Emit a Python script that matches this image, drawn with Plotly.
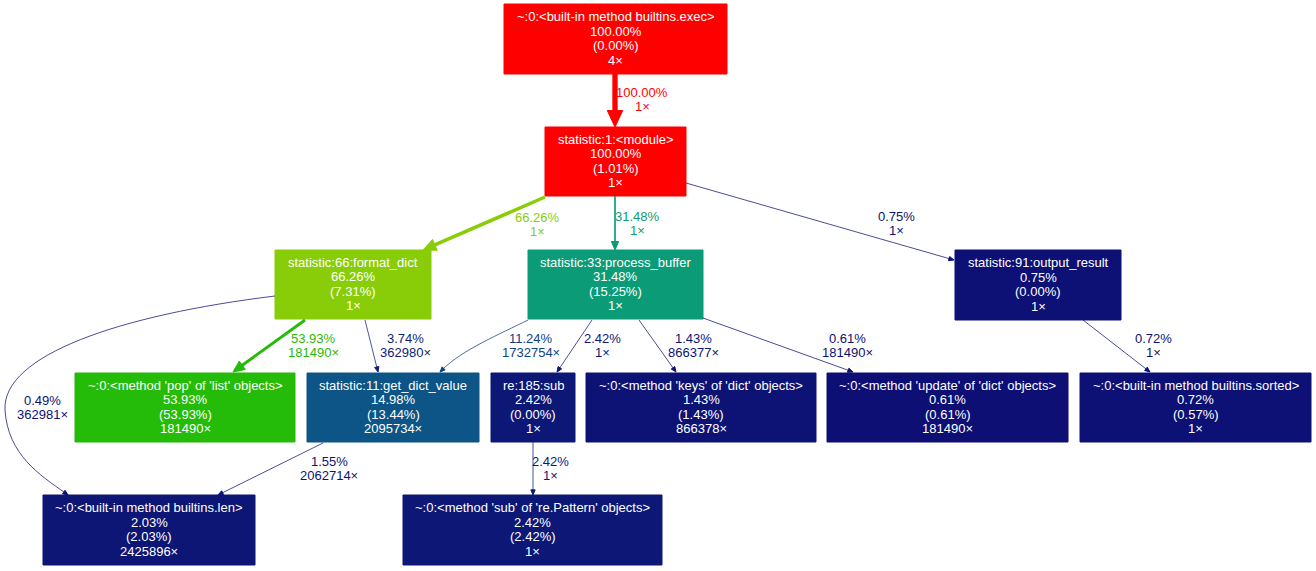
import math
import plotly.graph_objects as go

# ---------------- data ----------------
node_names = [
    "~:0:<built-in method builtins.exec>",
    "statistic:1:<module>",
    "statistic:66:format_dict",
    "statistic:33:process_buffer",
    "statistic:91:output_result",
    "~:0:<method 'pop' of 'list' objects>",
    "statistic:11:get_dict_value",
    "re:185:sub",
    "~:0:<method 'keys' of 'dict' objects>",
    "~:0:<method 'update' of 'dict' objects>",
    "~:0:<built-in method builtins.sorted>",
    "~:0:<built-in method builtins.len>",
    "~:0:<method 'sub' of 're.Pattern' objects>",
]
node_total_pct = [100.00, 100.00, 66.26, 31.48, 0.75, 53.93, 14.98, 2.42, 1.43, 0.61, 0.72, 2.03, 2.42]
node_self_pct = [0.00, 1.01, 7.31, 15.25, 0.00, 53.93, 13.44, 0.00, 1.43, 0.61, 0.57, 2.03, 2.42]
node_calls = [4, 1, 1, 1, 1, 181490, 2095734, 1, 866378, 181490, 1, 2425896, 1]

edge_src = [0, 1, 1, 1, 2, 2, 2, 3, 3, 3, 3, 4, 6, 7]
edge_dst = [1, 2, 3, 4, 5, 6, 11, 6, 7, 8, 9, 10, 11, 12]
edge_pct = [100.00, 66.26, 31.48, 0.75, 53.93, 3.74, 0.49, 11.24, 2.42, 1.43, 0.61, 0.72, 1.55, 2.42]
edge_calls = [1, 1, 1, 1, 181490, 362980, 362981, 1732754, 1, 866377, 181490, 1, 2062714, 1]

# ---------------- layout (pixel positions of the graph drawing) ----------------
node_boxes = [  # x0, x1, y0, y1
    (504, 727, 4, 74),
    (545, 686, 127, 196),
    (275, 431, 250, 319),
    (528, 703, 250, 319),
    (955, 1121, 250, 320),
    (75, 295, 373, 442),
    (307, 479, 373, 442),
    (491, 575, 373, 442),
    (586, 816, 373, 442),
    (827, 1068, 373, 442),
    (1080, 1311, 373, 442),
    (43, 255, 495, 565),
    (403, 662, 495, 565),
]

# edge paths: list of points; first = start, then cubic segments (3 pts each) or straight (1 pt)
edge_paths = [
    [(615, 74), (615, 127)],
    [(545, 197), (423, 250)],
    [(615, 196), (615, 250)],
    [(686, 183), (954, 260)],
    [(305, 320), (233, 372)],
    [(365, 320), (378, 372)],
    [(275, 296), (120, 315), (2, 355), (5, 410), (8, 455), (40, 475), (68, 495)],
    [(528, 320), (500, 334), (462, 350), (440, 372)],
    [(592, 320), (557, 372)],
    [(639, 320), (676, 372)],
    [(703, 318), (853, 372)],
    [(1083, 320), (1150, 372)],
    [(323, 443), (218, 495)],
    [(533, 442), (533, 495)],
]
edge_label_pos = [
    (642, 92), (537, 217), (637, 216), (896, 216),
    (313, 338), (405, 338), (42, 400), (531, 338),
    (602, 338), (693, 338), (847, 338), (1153, 338),
    (329, 461), (550, 461),
]

FONT = "Liberation Sans, Arial, sans-serif"
FS = 13
LINE = 14.6
SCALE = 4.0 / 3.0


def temp_color(w):
    """gprof2dot temperature colormap (gamma 1)."""
    w = min(max(w, 0.0), 1.0)
    hmin, smin, lmin = 2.0 / 3.0, 0.80, 0.25
    hmax, smax, lmax = 0.0, 1.0, 0.5
    h = hmin + w * (hmax - hmin)
    s = smin + w * (smax - smin)
    l = lmin + w * (lmax - lmin)
    m2 = l * (s + 1.0) if l <= 0.5 else l + s - l * s
    m1 = l * 2.0 - m2

    def hue(m1, m2, h):
        h = h % 1.0
        if h * 6 < 1:
            return m1 + (m2 - m1) * h * 6
        if h * 2 < 1:
            return m2
        if h * 3 < 2:
            return m1 + (m2 - m1) * (2.0 / 3.0 - h) * 6
        return m1

    r = hue(m1, m2, h + 1.0 / 3.0)
    g = hue(m1, m2, h)
    b = hue(m1, m2, h - 1.0 / 3.0)
    return "rgb(%d,%d,%d)" % (round(r * 255), round(g * 255), round(b * 255))


shapes = []
annotations = []

# nodes
for i, name in enumerate(node_names):
    x0, x1, y0, y1 = node_boxes[i]
    col = temp_color(node_total_pct[i] / 100.0)
    shapes.append(dict(type="rect", xref="x", yref="y", x0=x0, x1=x1, y0=y0, y1=y1,
                       fillcolor=col, line=dict(color=col, width=1), layer="above"))
    lines = [name, "%.2f%%" % node_total_pct[i], "(%.2f%%)" % node_self_pct[i],
             "%d\u00d7" % node_calls[i]]
    cx = (x0 + x1) / 2
    cy = (y0 + y1) / 2
    for k, t in enumerate(lines):
        annotations.append(dict(x=cx, y=cy + (k - 1.5) * LINE - 0.5, xref="x", yref="y",
                                text=t.replace("<", "&lt;").replace(">", "&gt;"),
                                showarrow=False, xanchor="center", yanchor="middle",
                                font=dict(family=FONT, size=FS, color="white")))

# edges
for j in range(len(edge_src)):
    w = edge_pct[j] / 100.0
    col = temp_color(w)
    pw_pt = max(w * 4.0, 0.5)
    pw = max(pw_pt * SCALE, 0.75)
    asz = 0.5 * math.sqrt(pw_pt)
    L = 13.3 * asz + pw * 0.6
    hw = 0.38 * 13.3 * asz + pw * 0.5
    pts = edge_paths[j]
    tip = pts[-1]
    prev = pts[-2]
    dx, dy = tip[0] - prev[0], tip[1] - prev[1]
    n = math.hypot(dx, dy)
    ux, uy = dx / n, dy / n
    end = (tip[0] - ux * L * 0.7, tip[1] - uy * L * 0.7)
    if len(pts) == 2:
        path = "M %.2f %.2f L %.2f %.2f" % (pts[0][0], pts[0][1], end[0], end[1])
    else:
        path = "M %.2f %.2f" % pts[0]
        segs = pts[1:]
        for s in range(0, len(segs), 3):
            c1, c2, p = segs[s], segs[s + 1], segs[s + 2]
            if s + 3 >= len(segs):
                p = end
            path += " C %.2f %.2f %.2f %.2f %.2f %.2f" % (c1[0], c1[1], c2[0], c2[1], p[0], p[1])
    shapes.append(dict(type="path", xref="x", yref="y", path=path,
                       line=dict(color=col, width=pw), layer="above"))
    bx, by = tip[0] - ux * L, tip[1] - uy * L
    px, py = -uy, ux
    tri = "M %.2f %.2f L %.2f %.2f L %.2f %.2f Z" % (
        tip[0], tip[1], bx + px * hw, by + py * hw, bx - px * hw, by - py * hw)
    shapes.append(dict(type="path", xref="x", yref="y", path=tri, fillcolor=col,
                       line=dict(color=col, width=1), layer="above"))
    lx, ly = edge_label_pos[j]
    for k, t in enumerate(["%.2f%%" % edge_pct[j], "%d\u00d7" % edge_calls[j]]):
        annotations.append(dict(x=lx, y=ly + k * LINE, xref="x", yref="y", text=t,
                                showarrow=False, xanchor="center", yanchor="middle",
                                font=dict(family=FONT, size=FS, color=col)))

fig = go.Figure()
fig.update_layout(
    width=1316, height=571, autosize=False,
    margin=dict(l=0, r=0, t=0, b=0, pad=0),
    paper_bgcolor="white", plot_bgcolor="white",
    xaxis=dict(range=[0, 1316], visible=False, fixedrange=True),
    yaxis=dict(range=[571, 0], visible=False, fixedrange=True),
    shapes=shapes, annotations=annotations, showlegend=False,
)
fig.write_html("out.html", config={"displayModeBar": False},
               post_script="document.body.style.margin='0';document.body.style.overflow='hidden';")
